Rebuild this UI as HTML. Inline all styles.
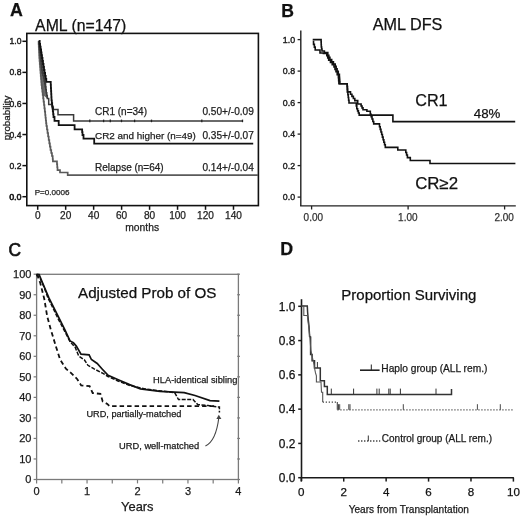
<!DOCTYPE html>
<html><head><meta charset="utf-8"><style>
html,body{margin:0;padding:0;background:#fff;}
svg{display:block;font-family:"Liberation Sans", sans-serif;will-change:transform;filter:blur(0.25px);}
</style></head><body>
<svg width="520" height="517" viewBox="0 0 520 517" font-family='"Liberation Sans", sans-serif'>
<rect width="520" height="517" fill="#fff"/>
<text x="9.9" y="15.7" font-size="17.8" text-anchor="start" font-weight="bold" fill="#111" stroke="#111" stroke-width="0.25" >A</text>
<text x="35.1" y="30.9" font-size="15.8" text-anchor="start" font-weight="normal" fill="#111" stroke="#111" stroke-width="0.25" >AML (n=147)</text>
<rect x="26.8" y="33.4" width="231.59999999999997" height="172.2" fill="none" stroke="#111" stroke-width="1.6"/>
<line x1="22.4" y1="196.7" x2="26.8" y2="196.7" stroke="#111" stroke-width="1.5" />
<text x="21.5" y="199.79999999999998" font-size="8.6" text-anchor="end" font-weight="normal" fill="#1a1a1a" stroke="#1a1a1a" stroke-width="0.4" >0.0</text>
<line x1="22.4" y1="165.61999999999998" x2="26.8" y2="165.61999999999998" stroke="#111" stroke-width="1.5" />
<text x="21.5" y="168.71999999999997" font-size="8.6" text-anchor="end" font-weight="normal" fill="#1a1a1a" stroke="#1a1a1a" stroke-width="0.4" >0.2</text>
<line x1="22.4" y1="134.54" x2="26.8" y2="134.54" stroke="#111" stroke-width="1.5" />
<text x="21.5" y="137.64" font-size="8.6" text-anchor="end" font-weight="normal" fill="#1a1a1a" stroke="#1a1a1a" stroke-width="0.4" >0.4</text>
<line x1="22.4" y1="103.46" x2="26.8" y2="103.46" stroke="#111" stroke-width="1.5" />
<text x="21.5" y="106.55999999999999" font-size="8.6" text-anchor="end" font-weight="normal" fill="#1a1a1a" stroke="#1a1a1a" stroke-width="0.4" >0.6</text>
<line x1="22.4" y1="72.37999999999998" x2="26.8" y2="72.37999999999998" stroke="#111" stroke-width="1.5" />
<text x="21.5" y="75.47999999999998" font-size="8.6" text-anchor="end" font-weight="normal" fill="#1a1a1a" stroke="#1a1a1a" stroke-width="0.4" >0.8</text>
<line x1="22.4" y1="41.29999999999998" x2="26.8" y2="41.29999999999998" stroke="#111" stroke-width="1.5" />
<text x="21.5" y="44.399999999999984" font-size="8.6" text-anchor="end" font-weight="normal" fill="#1a1a1a" stroke="#1a1a1a" stroke-width="0.4" >1.0</text>
<text x="21.2" y="199.89999999999998" font-size="8.6" text-anchor="end" font-weight="normal" fill="#222" stroke="#222" stroke-width="0.25" >0.0</text>
<line x1="37.7" y1="205.6" x2="37.7" y2="209.8" stroke="#111" stroke-width="1.5" />
<text x="37.7" y="218.8" font-size="10.1" text-anchor="middle" font-weight="normal" fill="#222" stroke="#222" stroke-width="0.25" >0</text>
<line x1="65.67" y1="205.6" x2="65.67" y2="209.8" stroke="#111" stroke-width="1.5" />
<text x="65.67" y="218.8" font-size="10.1" text-anchor="middle" font-weight="normal" fill="#222" stroke="#222" stroke-width="0.25" >20</text>
<line x1="93.64000000000001" y1="205.6" x2="93.64000000000001" y2="209.8" stroke="#111" stroke-width="1.5" />
<text x="93.64000000000001" y="218.8" font-size="10.1" text-anchor="middle" font-weight="normal" fill="#222" stroke="#222" stroke-width="0.25" >40</text>
<line x1="121.61000000000001" y1="205.6" x2="121.61000000000001" y2="209.8" stroke="#111" stroke-width="1.5" />
<text x="121.61000000000001" y="218.8" font-size="10.1" text-anchor="middle" font-weight="normal" fill="#222" stroke="#222" stroke-width="0.25" >60</text>
<line x1="149.58" y1="205.6" x2="149.58" y2="209.8" stroke="#111" stroke-width="1.5" />
<text x="149.58" y="218.8" font-size="10.1" text-anchor="middle" font-weight="normal" fill="#222" stroke="#222" stroke-width="0.25" >80</text>
<line x1="177.55" y1="205.6" x2="177.55" y2="209.8" stroke="#111" stroke-width="1.5" />
<text x="177.55" y="218.8" font-size="10.1" text-anchor="middle" font-weight="normal" fill="#222" stroke="#222" stroke-width="0.25" >100</text>
<line x1="205.52000000000004" y1="205.6" x2="205.52000000000004" y2="209.8" stroke="#111" stroke-width="1.5" />
<text x="205.52000000000004" y="218.8" font-size="10.1" text-anchor="middle" font-weight="normal" fill="#222" stroke="#222" stroke-width="0.25" >120</text>
<line x1="233.49" y1="205.6" x2="233.49" y2="209.8" stroke="#111" stroke-width="1.5" />
<text x="233.49" y="218.8" font-size="10.1" text-anchor="middle" font-weight="normal" fill="#222" stroke="#222" stroke-width="0.25" >140</text>
<text x="142.2" y="230.6" font-size="10.3" text-anchor="middle" font-weight="normal" fill="#222" stroke="#222" stroke-width="0.25" >months</text>
<text transform="translate(9.8,118.0) rotate(-90) scale(1,0.9)" font-size="9.8" text-anchor="middle" fill="#222" stroke="#222" stroke-width="0.3">probability</text>
<text x="34.7" y="195.2" font-size="8.1" text-anchor="start" font-weight="normal" fill="#222" stroke="#222" stroke-width="0.25" >P=0.0006</text>
<text x="95.0" y="114.8" font-size="10" text-anchor="start" font-weight="normal" fill="#222" stroke="#222" stroke-width="0.25" >CR1 (n=34)</text>
<text x="95.0" y="139.3" font-size="9.9" text-anchor="start" font-weight="normal" fill="#222" stroke="#222" stroke-width="0.25" >CR2 and higher (n=49)</text>
<text x="95.0" y="170.6" font-size="10.0" text-anchor="start" font-weight="normal" fill="#222" stroke="#222" stroke-width="0.25" >Relapse (n=64)</text>
<text x="253.8" y="115.1" font-size="10.1" text-anchor="end" font-weight="normal" fill="#222" stroke="#222" stroke-width="0.25" >0.50+/-0.09</text>
<text x="253.8" y="139.4" font-size="10.1" text-anchor="end" font-weight="normal" fill="#222" stroke="#222" stroke-width="0.25" >0.35+/-0.07</text>
<text x="253.8" y="170.5" font-size="10.1" text-anchor="end" font-weight="normal" fill="#222" stroke="#222" stroke-width="0.25" >0.14+/-0.04</text>
<polygon points="38.5,41 39.3,58 40.5,73 41.5,85 42.7,95 47.3,98.5 46.3,81.9 44.5,73 42,58 39.4,41" fill="#6a6a6a"/>
<polyline points="38.50,41.00 38.63,41.00 38.63,43.83 38.77,43.83 38.77,46.67 38.90,46.67 38.90,49.50 39.03,49.50 39.03,52.33 39.17,52.33 39.17,55.17 39.30,55.17 39.30,58.00 39.54,58.00 39.54,61.00 39.78,61.00 39.78,64.00 40.02,64.00 40.02,67.00 40.26,67.00 40.26,70.00 40.50,70.00 40.50,73.00 40.75,73.00 40.75,76.00 41.00,76.00 41.00,79.00 41.25,79.00 41.25,82.00 41.50,82.00 41.50,85.00 41.90,85.00 41.90,88.33 42.30,88.33 42.30,91.67 42.70,91.67 42.70,95.00 43.13,95.00 43.13,98.33 43.57,98.33 43.57,101.67 44.00,101.67 44.00,105.00 44.40,105.00 44.40,108.33 44.80,108.33 44.80,111.67 45.20,111.67 45.20,115.00 45.50,115.00 45.50,117.75 45.80,117.75 45.80,120.50 46.10,120.50 46.10,123.25 46.40,123.25 46.40,126.00 46.95,126.00 46.95,129.50 47.50,129.50 47.50,133.00 48.10,133.00 48.10,136.50 48.70,136.50 48.70,140.00 49.30,140.00 49.30,143.33 49.90,143.33 49.90,146.67 50.50,146.67 50.50,150.00 51.23,150.00 51.23,153.00 51.97,153.00 51.97,156.00 52.70,156.00 52.70,159.00 52.90,159.00 52.90,161.30 56.70,161.30 56.97,161.30 56.97,164.27 57.23,164.27 57.23,167.23 57.50,167.23 57.50,170.20 60.00,170.20 60.00,172.50 67.70,172.50 67.70,175.20 258.00,175.20" fill="none" stroke="#5a5a5a" stroke-width="1.7" stroke-linejoin="miter" />
<polyline points="38.80,41.00 39.08,41.00 39.08,43.83 39.37,43.83 39.37,46.67 39.65,46.67 39.65,49.50 39.93,49.50 39.93,52.33 40.22,52.33 40.22,55.17 40.50,55.17 40.50,58.00 40.84,58.00 40.84,61.00 41.18,61.00 41.18,64.00 41.52,64.00 41.52,67.00 41.86,67.00 41.86,70.00 42.20,70.00 42.20,73.00 42.90,73.00 42.90,75.50 43.60,75.50 43.60,78.00 44.13,78.00 44.13,80.93 44.66,80.93 44.66,83.86 45.19,83.86 45.19,86.79 45.71,86.79 45.71,89.71 46.24,89.71 46.24,92.64 46.77,92.64 46.77,95.57 47.30,95.57 47.30,98.50 48.70,98.50 48.70,104.50 51.00,104.50 52.15,104.50 52.15,107.05 53.30,107.05 53.30,109.60 58.00,109.60 58.00,114.80 73.60,114.80 73.60,121.10 242.70,121.10" fill="none" stroke="#3a3a3a" stroke-width="1.5" stroke-linejoin="miter" />
<polyline points="39.20,41.00 39.67,41.00 39.67,43.83 40.13,43.83 40.13,46.67 40.60,46.67 40.60,49.50 41.07,49.50 41.07,52.33 41.53,52.33 41.53,55.17 42.00,55.17 42.00,58.00 42.50,58.00 42.50,61.00 43.00,61.00 43.00,64.00 43.50,64.00 43.50,67.00 44.00,67.00 44.00,70.00 44.50,70.00 44.50,73.00 45.10,73.00 45.10,75.97 45.70,75.97 45.70,78.93 46.30,78.93 46.30,81.90 50.60,81.90 50.75,81.90 50.75,84.97 50.90,84.97 50.90,88.03 51.05,88.03 51.05,91.10 51.20,91.10 51.20,94.17 51.35,94.17 51.35,97.23 51.50,97.23 51.50,100.30 51.83,100.30 51.83,103.10 52.17,103.10 52.17,105.90 52.50,105.90 52.50,108.70 52.83,108.70 52.83,111.47 53.17,111.47 53.17,114.23 53.50,114.23 53.50,117.00 54.50,117.00 54.50,120.90 58.70,120.90 58.70,121.20 58.70,125.20 74.60,125.20 74.60,129.30 81.80,129.30 82.15,129.30 82.15,132.15 82.50,132.15 82.50,135.00 83.50,135.00 83.50,138.60 94.20,138.60 94.20,143.60 253.20,143.60" fill="none" stroke="#111" stroke-width="1.8" stroke-linejoin="miter" />
<line x1="89.8" y1="119.6" x2="89.8" y2="122.2" stroke="#222" stroke-width="1.3" />
<line x1="103.6" y1="119.6" x2="103.6" y2="122.2" stroke="#222" stroke-width="1.3" />
<line x1="110.3" y1="119.6" x2="110.3" y2="122.2" stroke="#222" stroke-width="1.3" />
<line x1="121.5" y1="119.6" x2="121.5" y2="122.2" stroke="#222" stroke-width="1.3" />
<line x1="134.6" y1="119.6" x2="134.6" y2="122.2" stroke="#222" stroke-width="1.3" />
<line x1="151.5" y1="119.6" x2="151.5" y2="122.2" stroke="#222" stroke-width="1.3" />
<line x1="201.8" y1="119.6" x2="201.8" y2="122.2" stroke="#222" stroke-width="1.3" />
<line x1="242.5" y1="119.6" x2="242.5" y2="122.2" stroke="#222" stroke-width="1.3" />
<text x="281.3" y="16.6" font-size="17.6" text-anchor="start" font-weight="bold" fill="#111" stroke="#111" stroke-width="0.25" >B</text>
<text x="372.8" y="30.3" font-size="16.2" text-anchor="start" font-weight="normal" fill="#111" stroke="#111" stroke-width="0.25" >AML DFS</text>
<line x1="300.8" y1="30.4" x2="300.8" y2="205.9" stroke="#222" stroke-width="1.4" />
<line x1="300.1" y1="205.9" x2="515.8" y2="205.9" stroke="#222" stroke-width="1.4" />
<line x1="297.6" y1="197.1" x2="300.8" y2="197.1" stroke="#222" stroke-width="1.3" />
<text x="295.1" y="200.29999999999998" font-size="8.8" text-anchor="end" font-weight="normal" fill="#222" stroke="#222" stroke-width="0.4" >0.0</text>
<line x1="297.6" y1="165.6" x2="300.8" y2="165.6" stroke="#222" stroke-width="1.3" />
<text x="295.1" y="168.79999999999998" font-size="8.8" text-anchor="end" font-weight="normal" fill="#222" stroke="#222" stroke-width="0.4" >0.2</text>
<line x1="297.6" y1="134.1" x2="300.8" y2="134.1" stroke="#222" stroke-width="1.3" />
<text x="295.1" y="137.29999999999998" font-size="8.8" text-anchor="end" font-weight="normal" fill="#222" stroke="#222" stroke-width="0.4" >0.4</text>
<line x1="297.6" y1="102.6" x2="300.8" y2="102.6" stroke="#222" stroke-width="1.3" />
<text x="295.1" y="105.8" font-size="8.8" text-anchor="end" font-weight="normal" fill="#222" stroke="#222" stroke-width="0.4" >0.6</text>
<line x1="297.6" y1="71.1" x2="300.8" y2="71.1" stroke="#222" stroke-width="1.3" />
<text x="295.1" y="74.3" font-size="8.8" text-anchor="end" font-weight="normal" fill="#222" stroke="#222" stroke-width="0.4" >0.8</text>
<line x1="297.6" y1="39.599999999999994" x2="300.8" y2="39.599999999999994" stroke="#222" stroke-width="1.3" />
<text x="295.1" y="42.8" font-size="8.8" text-anchor="end" font-weight="normal" fill="#222" stroke="#222" stroke-width="0.4" >1.0</text>
<line x1="311.6" y1="205.9" x2="311.6" y2="209.5" stroke="#222" stroke-width="1.3" />
<text x="313.3" y="221.1" font-size="10.2" text-anchor="middle" font-weight="normal" fill="#333" stroke="#333" stroke-width="0.25" textLength="19.4" lengthAdjust="spacingAndGlyphs">0.00</text>
<line x1="408.1" y1="205.9" x2="408.1" y2="209.5" stroke="#222" stroke-width="1.3" />
<text x="407.8" y="221.1" font-size="10.2" text-anchor="middle" font-weight="normal" fill="#333" stroke="#333" stroke-width="0.25" textLength="19.4" lengthAdjust="spacingAndGlyphs">1.00</text>
<line x1="504.6" y1="205.9" x2="504.6" y2="209.5" stroke="#222" stroke-width="1.3" />
<text x="504.2" y="221.1" font-size="10.2" text-anchor="middle" font-weight="normal" fill="#333" stroke="#333" stroke-width="0.25" textLength="19.4" lengthAdjust="spacingAndGlyphs">2.00</text>
<text x="415.2" y="105.5" font-size="16.2" text-anchor="start" font-weight="normal" fill="#111" stroke="#111" stroke-width="0.25" >CR1</text>
<text x="473.8" y="118.2" font-size="13.3" text-anchor="start" font-weight="normal" fill="#111" stroke="#111" stroke-width="0.25" >48%</text>
<text x="415.2" y="188.9" font-size="16.2" text-anchor="start" font-weight="normal" fill="#111" stroke="#111" stroke-width="0.25" textLength="43" lengthAdjust="spacingAndGlyphs">CR≥2</text>
<polyline points="312.70,39.60 321.00,39.60 321.10,39.60 321.10,42.07 321.20,42.07 321.20,44.53 321.30,44.53 321.30,47.00 321.65,47.00 321.65,49.00 322.00,49.00 322.00,51.00 324.40,51.00 324.40,52.60 327.80,52.60 327.80,55.20 328.85,55.20 328.85,57.35 329.90,57.35 329.90,59.50 331.67,59.50 331.67,61.77 333.43,61.77 333.43,64.03 335.20,64.03 335.20,66.30 336.15,66.30 336.15,68.75 337.10,68.75 337.10,71.20 338.25,71.20 338.25,74.20 339.40,74.20 339.40,77.20 339.57,77.20 339.57,79.37 339.73,79.37 339.73,81.53 339.90,81.53 339.90,83.70 347.10,83.70 347.23,83.70 347.23,86.47 347.37,86.47 347.37,89.23 347.50,89.23 347.50,92.00 347.88,92.00 347.88,94.75 348.25,94.75 348.25,97.50 348.62,97.50 348.62,100.25 349.00,100.25 349.00,103.00 355.80,103.00 356.30,103.00 356.30,105.90 356.80,105.90 356.80,108.80 357.60,108.80 357.60,110.90 358.40,110.90 358.40,113.00 359.20,113.00 359.20,115.10 392.90,115.10 392.90,121.60 515.20,121.60" fill="none" stroke="#111" stroke-width="1.6" stroke-linejoin="miter" />
<polyline points="312.70,41.50 313.53,41.50 313.53,44.33 314.37,44.33 314.37,47.17 315.20,47.17 315.20,50.00 319.50,50.00 320.00,50.00 320.00,53.00 323.40,53.00 323.40,53.40 326.80,53.40 326.80,55.80 327.75,55.80 327.75,57.95 328.70,57.95 328.70,60.10 330.47,60.10 330.47,62.37 332.23,62.37 332.23,64.63 334.00,64.63 334.00,66.90 335.00,66.90 335.00,69.35 336.00,69.35 336.00,71.80 337.20,71.80 337.20,74.70 338.40,74.70 338.40,77.60 338.65,77.60 338.65,80.65 338.90,80.65 338.90,83.70 347.10,83.70 347.23,83.70 347.23,86.43 347.37,86.43 347.37,89.17 347.50,89.17 347.50,91.90 350.50,91.90 350.50,94.30 351.93,94.30 351.93,96.40 353.37,96.40 353.37,98.50 354.80,98.50 354.80,100.60 357.70,100.60 357.70,104.00 361.10,104.00 361.10,106.00 362.05,106.00 362.05,107.90 363.00,107.90 363.00,109.80 366.90,109.80 366.90,111.30 370.30,111.30 370.30,114.20 371.15,114.20 371.15,116.62 372.00,116.62 372.00,119.05 372.85,119.05 372.85,121.48 373.70,121.48 373.70,123.90 379.50,123.90 379.50,126.80 380.23,126.80 380.23,129.38 380.95,129.38 380.95,131.95 381.68,131.95 381.68,134.53 382.40,134.53 382.40,137.10 383.12,137.10 383.12,139.68 383.85,139.68 383.85,142.25 384.57,142.25 384.57,144.82 385.30,144.82 385.30,147.40 397.50,147.40 397.80,147.40 397.80,150.00 405.00,150.00 405.80,150.00 405.80,152.53 406.60,152.53 406.60,155.07 407.40,155.07 407.40,157.60 410.30,157.60 410.30,160.50 430.00,160.50 430.00,163.50 515.40,163.50" fill="none" stroke="#111" stroke-width="1.6" stroke-linejoin="miter" />
<text x="8.6" y="256.0" font-size="17.6" text-anchor="start" font-weight="normal" fill="#111"  stroke="#111" stroke-width="0.6" textLength="12.6" lengthAdjust="spacingAndGlyphs">C</text>
<text x="78.0" y="297.9" font-size="15.2" text-anchor="start" font-weight="normal" fill="#111" stroke="#111" stroke-width="0.25" >Adjusted Prob of OS</text>
<rect x="36.6" y="274.3" width="201.8" height="205.2" fill="none" stroke="#7a7a7a" stroke-width="1.3"/>
<line x1="33.6" y1="479.5" x2="36.6" y2="479.5" stroke="#7a7a7a" stroke-width="1.2" />
<line x1="237.20000000000002" y1="479.5" x2="240.0" y2="479.5" stroke="#7a7a7a" stroke-width="1.2" />
<text x="31.4" y="483.3" font-size="11" text-anchor="end" font-weight="normal" fill="#1a1a1a" stroke="#1a1a1a" stroke-width="0.25" >0</text>
<line x1="33.6" y1="458.97" x2="36.6" y2="458.97" stroke="#7a7a7a" stroke-width="1.2" />
<line x1="237.20000000000002" y1="458.97" x2="240.0" y2="458.97" stroke="#7a7a7a" stroke-width="1.2" />
<text x="31.4" y="462.77000000000004" font-size="11" text-anchor="end" font-weight="normal" fill="#1a1a1a" stroke="#1a1a1a" stroke-width="0.25" >10</text>
<line x1="33.6" y1="438.44" x2="36.6" y2="438.44" stroke="#7a7a7a" stroke-width="1.2" />
<line x1="237.20000000000002" y1="438.44" x2="240.0" y2="438.44" stroke="#7a7a7a" stroke-width="1.2" />
<text x="31.4" y="442.24" font-size="11" text-anchor="end" font-weight="normal" fill="#1a1a1a" stroke="#1a1a1a" stroke-width="0.25" >20</text>
<line x1="33.6" y1="417.91" x2="36.6" y2="417.91" stroke="#7a7a7a" stroke-width="1.2" />
<line x1="237.20000000000002" y1="417.91" x2="240.0" y2="417.91" stroke="#7a7a7a" stroke-width="1.2" />
<text x="31.4" y="421.71000000000004" font-size="11" text-anchor="end" font-weight="normal" fill="#1a1a1a" stroke="#1a1a1a" stroke-width="0.25" >30</text>
<line x1="33.6" y1="397.38" x2="36.6" y2="397.38" stroke="#7a7a7a" stroke-width="1.2" />
<line x1="237.20000000000002" y1="397.38" x2="240.0" y2="397.38" stroke="#7a7a7a" stroke-width="1.2" />
<text x="31.4" y="401.18" font-size="11" text-anchor="end" font-weight="normal" fill="#1a1a1a" stroke="#1a1a1a" stroke-width="0.25" >40</text>
<line x1="33.6" y1="376.85" x2="36.6" y2="376.85" stroke="#7a7a7a" stroke-width="1.2" />
<line x1="237.20000000000002" y1="376.85" x2="240.0" y2="376.85" stroke="#7a7a7a" stroke-width="1.2" />
<text x="31.4" y="380.65000000000003" font-size="11" text-anchor="end" font-weight="normal" fill="#1a1a1a" stroke="#1a1a1a" stroke-width="0.25" >50</text>
<line x1="33.6" y1="356.32" x2="36.6" y2="356.32" stroke="#7a7a7a" stroke-width="1.2" />
<line x1="237.20000000000002" y1="356.32" x2="240.0" y2="356.32" stroke="#7a7a7a" stroke-width="1.2" />
<text x="31.4" y="360.12" font-size="11" text-anchor="end" font-weight="normal" fill="#1a1a1a" stroke="#1a1a1a" stroke-width="0.25" >60</text>
<line x1="33.6" y1="335.78999999999996" x2="36.6" y2="335.78999999999996" stroke="#7a7a7a" stroke-width="1.2" />
<line x1="237.20000000000002" y1="335.78999999999996" x2="240.0" y2="335.78999999999996" stroke="#7a7a7a" stroke-width="1.2" />
<text x="31.4" y="339.59" font-size="11" text-anchor="end" font-weight="normal" fill="#1a1a1a" stroke="#1a1a1a" stroke-width="0.25" >70</text>
<line x1="33.6" y1="315.26" x2="36.6" y2="315.26" stroke="#7a7a7a" stroke-width="1.2" />
<line x1="237.20000000000002" y1="315.26" x2="240.0" y2="315.26" stroke="#7a7a7a" stroke-width="1.2" />
<text x="31.4" y="319.06" font-size="11" text-anchor="end" font-weight="normal" fill="#1a1a1a" stroke="#1a1a1a" stroke-width="0.25" >80</text>
<line x1="33.6" y1="294.73" x2="36.6" y2="294.73" stroke="#7a7a7a" stroke-width="1.2" />
<line x1="237.20000000000002" y1="294.73" x2="240.0" y2="294.73" stroke="#7a7a7a" stroke-width="1.2" />
<text x="31.4" y="298.53000000000003" font-size="11" text-anchor="end" font-weight="normal" fill="#1a1a1a" stroke="#1a1a1a" stroke-width="0.25" >90</text>
<line x1="33.6" y1="274.20000000000005" x2="36.6" y2="274.20000000000005" stroke="#7a7a7a" stroke-width="1.2" />
<line x1="237.20000000000002" y1="274.20000000000005" x2="240.0" y2="274.20000000000005" stroke="#7a7a7a" stroke-width="1.2" />
<text x="31.4" y="278.00000000000006" font-size="11" text-anchor="end" font-weight="normal" fill="#1a1a1a" stroke="#1a1a1a" stroke-width="0.25" >100</text>
<line x1="36.6" y1="479.5" x2="36.6" y2="483.4" stroke="#7a7a7a" stroke-width="1.2" />
<text x="36.6" y="495.4" font-size="11" text-anchor="middle" font-weight="normal" fill="#1a1a1a" stroke="#1a1a1a" stroke-width="0.25" >0</text>
<line x1="61.825" y1="479.5" x2="61.825" y2="483.4" stroke="#7a7a7a" stroke-width="1.2" />
<line x1="87.05000000000001" y1="479.5" x2="87.05000000000001" y2="483.4" stroke="#7a7a7a" stroke-width="1.2" />
<text x="87.05000000000001" y="495.4" font-size="11" text-anchor="middle" font-weight="normal" fill="#1a1a1a" stroke="#1a1a1a" stroke-width="0.25" >1</text>
<line x1="112.275" y1="479.5" x2="112.275" y2="483.4" stroke="#7a7a7a" stroke-width="1.2" />
<line x1="137.5" y1="479.5" x2="137.5" y2="483.4" stroke="#7a7a7a" stroke-width="1.2" />
<text x="137.5" y="495.4" font-size="11" text-anchor="middle" font-weight="normal" fill="#1a1a1a" stroke="#1a1a1a" stroke-width="0.25" >2</text>
<line x1="162.725" y1="479.5" x2="162.725" y2="483.4" stroke="#7a7a7a" stroke-width="1.2" />
<line x1="187.95000000000002" y1="479.5" x2="187.95000000000002" y2="483.4" stroke="#7a7a7a" stroke-width="1.2" />
<text x="187.95000000000002" y="495.4" font-size="11" text-anchor="middle" font-weight="normal" fill="#1a1a1a" stroke="#1a1a1a" stroke-width="0.25" >3</text>
<line x1="213.175" y1="479.5" x2="213.175" y2="483.4" stroke="#7a7a7a" stroke-width="1.2" />
<line x1="238.4" y1="479.5" x2="238.4" y2="483.4" stroke="#7a7a7a" stroke-width="1.2" />
<text x="238.4" y="495.4" font-size="11" text-anchor="middle" font-weight="normal" fill="#1a1a1a" stroke="#1a1a1a" stroke-width="0.25" >4</text>
<text x="137.3" y="511.3" font-size="12.9" text-anchor="middle" font-weight="normal" fill="#1a1a1a" stroke="#1a1a1a" stroke-width="0.25" >Years</text>
<text x="153.1" y="382.7" font-size="9.3" text-anchor="start" font-weight="normal" fill="#1a1a1a" stroke="#1a1a1a" stroke-width="0.25" >HLA-identical sibling</text>
<text x="86.4" y="416.9" font-size="9.2" text-anchor="start" font-weight="normal" fill="#1a1a1a" stroke="#1a1a1a" stroke-width="0.25" >URD, partially-matched</text>
<text x="119.1" y="449.2" font-size="9.3" text-anchor="start" font-weight="normal" fill="#1a1a1a" stroke="#1a1a1a" stroke-width="0.25" >URD, well-matched</text>
<path d="M205.4,446 C212,443 217,433 218.9,417" fill="none" stroke="#444" stroke-width="1.1"/>
<path d="M218.8,414.8 L216.4,419 L221.4,419 Z" fill="#444"/>
<polyline points="36.60,274.30 39.10,274.60 42.00,281.60 48.90,297.90 58.20,316.40 64.70,329.30 70.00,340.90 73.40,342.60 76.30,346.10 81.00,354.20 89.10,354.80 91.40,359.50 97.20,363.50 101.90,368.70 108.10,375.40 118.80,380.00 129.60,384.60 140.40,388.80 160.00,391.40 184.20,392.70 195.00,395.50 210.00,400.60 219.40,401.20" fill="none" stroke="#111" stroke-width="1.7" stroke-linejoin="miter" />
<polyline points="36.60,274.30 40.00,278.00 44.00,287.00 48.00,298.00 53.00,308.00 58.00,318.50 64.00,330.00 70.00,341.50 75.20,347.30 78.70,356.00 84.50,360.00 87.90,365.30 93.70,368.70 103.00,373.40 108.00,376.50 118.00,381.00 130.00,385.50 145.00,389.00 174.60,392.60 178.50,399.50 193.00,399.50 197.70,404.60 208.00,405.60 216.90,406.90 219.40,406.90 219.40,412.60" fill="none" stroke="#111" stroke-width="1.5" stroke-linejoin="miter" stroke-dasharray="4,1.5"/>
<polyline points="36.60,274.30 38.00,277.00 40.20,282.80 44.30,299.00 47.20,316.40 50.70,329.20 56.00,346.70 60.10,359.50 65.90,368.70 71.20,373.10 77.30,379.20 81.20,385.40 89.60,386.20 92.70,393.10 100.40,393.80 102.70,401.50 107.30,403.90 109.60,406.20 216.00,406.20" fill="none" stroke="#111" stroke-width="1.8" stroke-linejoin="miter" stroke-dasharray="4.5,3"/>
<text x="280.2" y="254.9" font-size="17.8" text-anchor="start" font-weight="bold" fill="#111" stroke="#111" stroke-width="0.25" >D</text>
<text x="341.3" y="300.2" font-size="15" text-anchor="start" font-weight="normal" fill="#111" stroke="#111" stroke-width="0.25" >Proportion Surviving</text>
<line x1="301.5" y1="299.2" x2="301.5" y2="481.2" stroke="#1a1a1a" stroke-width="1.6" />
<line x1="301.5" y1="477.7" x2="513.9" y2="477.7" stroke="#1a1a1a" stroke-width="1.6" />
<line x1="298.2" y1="477.7" x2="301.5" y2="477.7" stroke="#1a1a1a" stroke-width="1.5" />
<text x="295.4" y="481.9" font-size="11.9" text-anchor="end" font-weight="normal" fill="#111" stroke="#111" stroke-width="0.25" >0.0</text>
<line x1="298.2" y1="443.41999999999996" x2="301.5" y2="443.41999999999996" stroke="#1a1a1a" stroke-width="1.5" />
<text x="295.4" y="447.61999999999995" font-size="11.9" text-anchor="end" font-weight="normal" fill="#111" stroke="#111" stroke-width="0.25" >0.2</text>
<line x1="298.2" y1="409.14" x2="301.5" y2="409.14" stroke="#1a1a1a" stroke-width="1.5" />
<text x="295.4" y="413.34" font-size="11.9" text-anchor="end" font-weight="normal" fill="#111" stroke="#111" stroke-width="0.25" >0.4</text>
<line x1="298.2" y1="374.86" x2="301.5" y2="374.86" stroke="#1a1a1a" stroke-width="1.5" />
<text x="295.4" y="379.06" font-size="11.9" text-anchor="end" font-weight="normal" fill="#111" stroke="#111" stroke-width="0.25" >0.6</text>
<line x1="298.2" y1="340.58" x2="301.5" y2="340.58" stroke="#1a1a1a" stroke-width="1.5" />
<text x="295.4" y="344.78" font-size="11.9" text-anchor="end" font-weight="normal" fill="#111" stroke="#111" stroke-width="0.25" >0.8</text>
<line x1="298.2" y1="306.29999999999995" x2="301.5" y2="306.29999999999995" stroke="#1a1a1a" stroke-width="1.5" />
<text x="295.4" y="310.49999999999994" font-size="11.9" text-anchor="end" font-weight="normal" fill="#111" stroke="#111" stroke-width="0.25" >1.0</text>
<line x1="301.3" y1="477.7" x2="301.3" y2="481.6" stroke="#1a1a1a" stroke-width="1.5" />
<text x="301.3" y="495.7" font-size="11.6" text-anchor="middle" font-weight="normal" fill="#111" stroke="#111" stroke-width="0.25" >0</text>
<line x1="343.72" y1="477.7" x2="343.72" y2="481.6" stroke="#1a1a1a" stroke-width="1.5" />
<text x="343.72" y="495.7" font-size="11.6" text-anchor="middle" font-weight="normal" fill="#111" stroke="#111" stroke-width="0.25" >2</text>
<line x1="386.14" y1="477.7" x2="386.14" y2="481.6" stroke="#1a1a1a" stroke-width="1.5" />
<text x="386.14" y="495.7" font-size="11.6" text-anchor="middle" font-weight="normal" fill="#111" stroke="#111" stroke-width="0.25" >4</text>
<line x1="428.56" y1="477.7" x2="428.56" y2="481.6" stroke="#1a1a1a" stroke-width="1.5" />
<text x="428.56" y="495.7" font-size="11.6" text-anchor="middle" font-weight="normal" fill="#111" stroke="#111" stroke-width="0.25" >6</text>
<line x1="470.98" y1="477.7" x2="470.98" y2="481.6" stroke="#1a1a1a" stroke-width="1.5" />
<text x="470.98" y="495.7" font-size="11.6" text-anchor="middle" font-weight="normal" fill="#111" stroke="#111" stroke-width="0.25" >8</text>
<line x1="513.4000000000001" y1="477.7" x2="513.4000000000001" y2="481.6" stroke="#1a1a1a" stroke-width="1.5" />
<text x="513.4000000000001" y="495.7" font-size="11.6" text-anchor="middle" font-weight="normal" fill="#111" stroke="#111" stroke-width="0.25" >10</text>
<text x="408.8" y="512.5" font-size="10.1" text-anchor="middle" font-weight="normal" fill="#1a1a1a" stroke="#1a1a1a" stroke-width="0.25" >Years from Transplantation</text>
<line x1="360" y1="370.2" x2="379.6" y2="370.2" stroke="#222" stroke-width="1.6" />
<line x1="371.3" y1="364.5" x2="371.3" y2="370.2" stroke="#222" stroke-width="1.0" />
<text x="381.3" y="371.5" font-size="10.2" text-anchor="start" font-weight="normal" fill="#1a1a1a" stroke="#1a1a1a" stroke-width="0.25" >Haplo group (ALL rem.)</text>
<line x1="358.1" y1="441" x2="380.2" y2="441" stroke="#333" stroke-width="1.4" stroke-dasharray="1.3,1.7"/>
<line x1="368.3" y1="435.5" x2="368.3" y2="441" stroke="#333" stroke-width="1.0" />
<text x="381.8" y="442.1" font-size="10" text-anchor="start" font-weight="normal" fill="#1a1a1a" stroke="#1a1a1a" stroke-width="0.25" >Control group (ALL rem.)</text>
<polyline points="301.50,306.10 307.30,306.10 307.60,312.00 308.30,320.00 309.00,326.00 309.60,336.50 310.60,337.00 310.60,354.50 312.10,354.50 312.10,360.80 314.50,360.80 314.50,368.00 320.30,368.00 320.30,380.80 324.40,380.80 324.40,386.50 327.30,386.50 327.30,394.50 451.50,394.50 451.50,389.00" fill="none" stroke="#333" stroke-width="1.5" stroke-linejoin="miter" />
<line x1="331.3" y1="388.6" x2="331.3" y2="394.5" stroke="#333" stroke-width="1.0" />
<line x1="353.6" y1="388.6" x2="353.6" y2="394.5" stroke="#333" stroke-width="1.0" />
<line x1="376.9" y1="388.6" x2="376.9" y2="394.5" stroke="#333" stroke-width="1.0" />
<line x1="379.2" y1="388.6" x2="379.2" y2="394.5" stroke="#333" stroke-width="1.0" />
<line x1="388.8" y1="388.6" x2="388.8" y2="394.5" stroke="#333" stroke-width="1.0" />
<line x1="390.2" y1="388.6" x2="390.2" y2="394.5" stroke="#333" stroke-width="1.0" />
<line x1="400.4" y1="388.6" x2="400.4" y2="394.5" stroke="#333" stroke-width="1.0" />
<line x1="436" y1="388.6" x2="436" y2="394.5" stroke="#333" stroke-width="1.0" />
<line x1="317.4" y1="362" x2="317.4" y2="368" stroke="#333" stroke-width="1.0" />
<polyline points="301.50,306.10 303.80,306.10 303.80,315.50 307.30,315.50 308.10,322.00 309.10,330.00 310.10,340.00 310.80,350.00 312.30,357.00 314.20,365.00 314.50,368.00 315.50,372.90 316.40,375.80 316.40,382.00 321.00,382.00 321.50,392.30 322.70,392.30 322.70,402.10" fill="none" stroke="#555" stroke-width="1.1" stroke-linejoin="miter" />
<line x1="322.7" y1="402.1" x2="337.3" y2="402.1" stroke="#444" stroke-width="1.2" stroke-dasharray="1.3,1.7"/>
<line x1="337.3" y1="402.1" x2="337.3" y2="409.8" stroke="#444" stroke-width="1.1" />
<line x1="337.3" y1="409.8" x2="513.5" y2="409.8" stroke="#555" stroke-width="1.2" stroke-dasharray="1.3,1.7"/>
<line x1="338.5" y1="404.2" x2="338.5" y2="409.8" stroke="#333" stroke-width="0.9" />
<line x1="339.7" y1="404.2" x2="339.7" y2="409.8" stroke="#333" stroke-width="0.9" />
<line x1="348.8" y1="404.2" x2="348.8" y2="409.8" stroke="#333" stroke-width="0.9" />
<line x1="350.0" y1="404.2" x2="350.0" y2="409.8" stroke="#333" stroke-width="0.9" />
<line x1="403.3" y1="404.2" x2="403.3" y2="409.8" stroke="#333" stroke-width="0.9" />
<line x1="477.4" y1="404.2" x2="477.4" y2="409.8" stroke="#333" stroke-width="0.9" />
<line x1="500.3" y1="404.2" x2="500.3" y2="409.8" stroke="#333" stroke-width="0.9" />
</svg>
</body></html>
